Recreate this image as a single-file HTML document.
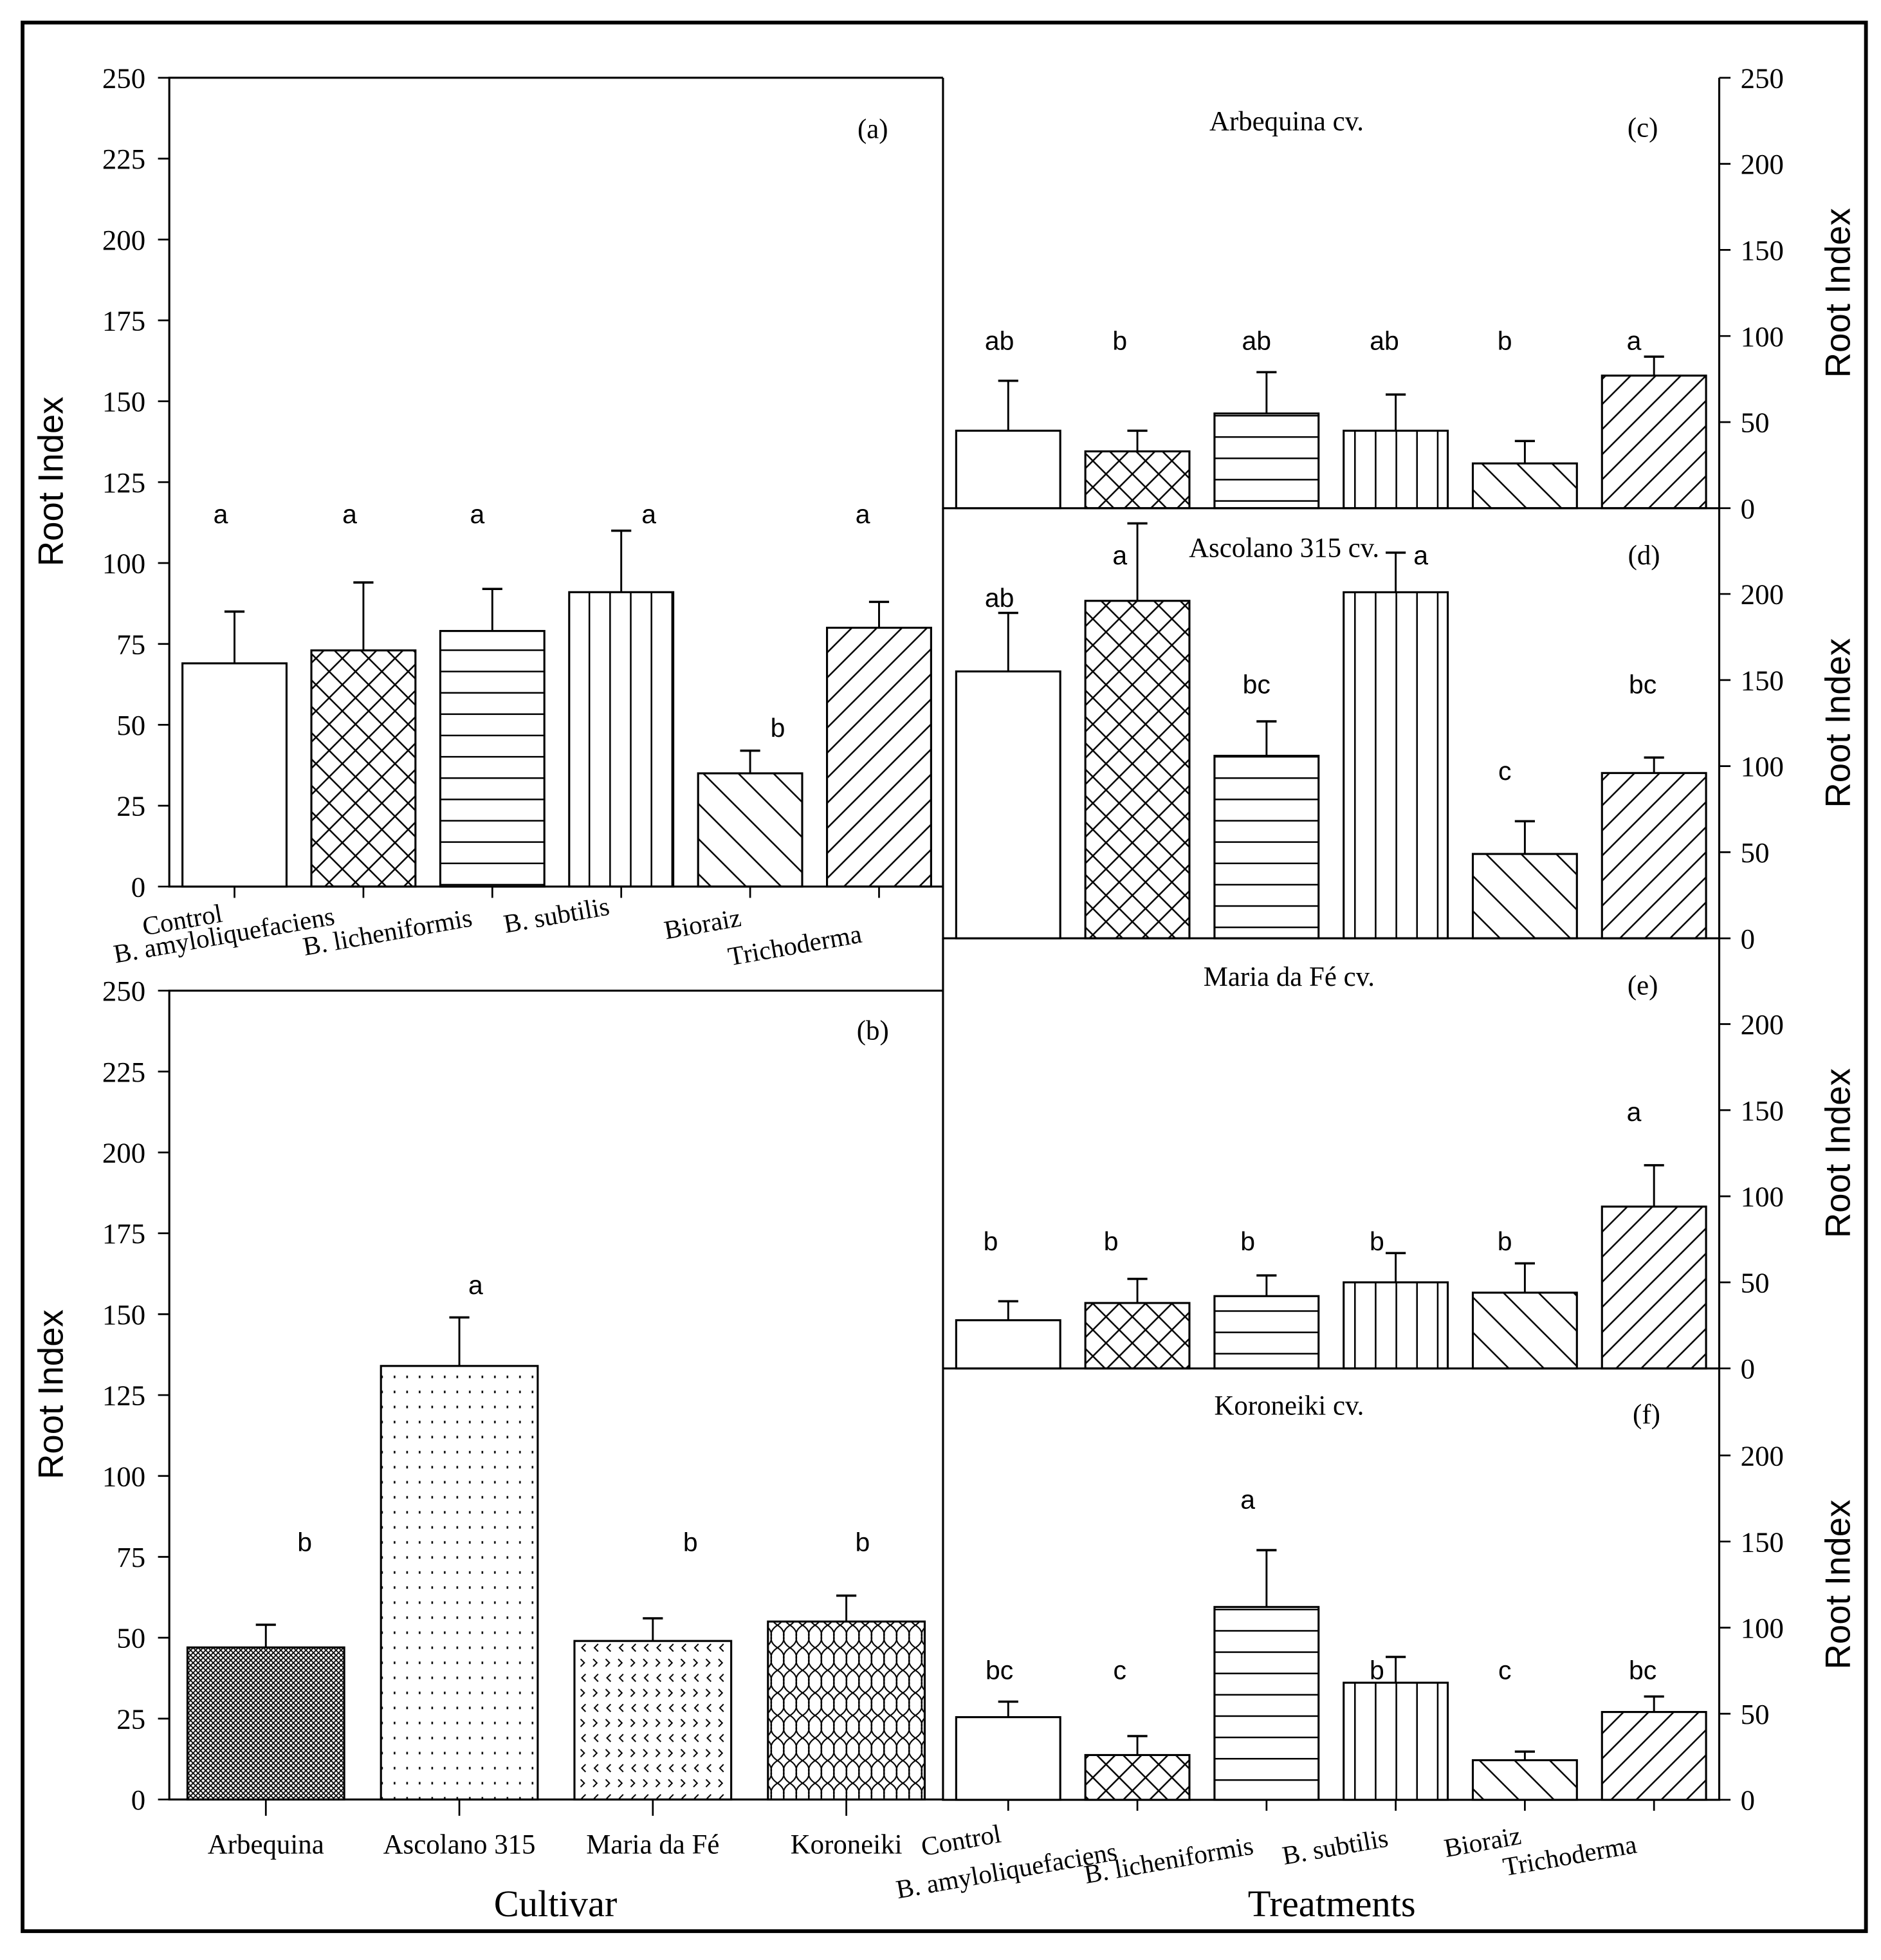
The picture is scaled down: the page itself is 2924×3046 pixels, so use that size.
<!DOCTYPE html>
<html><head><meta charset="utf-8"><style>
html,body{margin:0;padding:0;background:#fff}
svg{display:block}
.ser{font-family:"Liberation Serif",serif}
.san{font-family:"Liberation Sans",sans-serif}
</style></head><body>
<svg id="fig" width="2924" height="3046" viewBox="0 0 1500 1563" preserveAspectRatio="none" xmlns="http://www.w3.org/2000/svg">
<defs>
<pattern id="p-cross" patternUnits="userSpaceOnUse" width="21" height="21"><path d="M0 0L21 21M21 0L0 21" stroke="#000" stroke-width="1.3"/></pattern>
<pattern id="p-hor" patternUnits="userSpaceOnUse" width="10" height="17"><path d="M0 8.5H10" stroke="#000" stroke-width="1.3"/></pattern>
<pattern id="p-ver" patternUnits="userSpaceOnUse" width="16.5" height="10"><path d="M8 0V10" stroke="#000" stroke-width="1.3"/></pattern>
<pattern id="p-back" patternUnits="userSpaceOnUse" width="28" height="28"><path d="M0 0L28 28M-14 14L14 42M14 -14L42 14" stroke="#000" stroke-width="1.3"/></pattern>
<pattern id="p-fwd" patternUnits="userSpaceOnUse" width="20" height="20"><path d="M0 20L20 0M-10 10L10 -10M10 30L30 10" stroke="#000" stroke-width="1.3"/></pattern>
<pattern id="p-fine" patternUnits="userSpaceOnUse" width="4" height="4"><rect width="4" height="4" fill="#fff"/><path d="M0 0L4 4M4 0L0 4" stroke="#000" stroke-width="0.9"/></pattern>
<pattern id="p-dots" patternUnits="userSpaceOnUse" width="10" height="12"><rect x="4" y="5" width="1.3" height="2" fill="#000"/></pattern>
<pattern id="p-chev" patternUnits="userSpaceOnUse" width="10" height="24"><path d="M3 3L6 6L3 9M7 15L4 18L7 21" stroke="#000" stroke-width="1" fill="none"/></pattern>
<pattern id="p-scale" patternUnits="userSpaceOnUse" width="10" height="18"><path d="M0 0Q6 4 5 9Q4 14 10 18M10 0Q4 4 5 9M5 9Q6 14 0 18" stroke="#000" stroke-width="1.1" fill="none"/></pattern>
</defs>
<rect x="18" y="18" width="1470" height="1522" fill="none" stroke="#000" stroke-width="3"/>
<g id="g"></g>
</svg>
<script>
// ---- data ----
const treatments = ["Control","B. amyloliquefaciens","B. licheniformis","B. subtilis","Bioraiz","Trichoderma"];
const aValues = [69,73,79,91,35,80];
const aErrors = [16,21,13,19,7,8];
const aLetters = ["a","a","a","a","b","a"];
const cultivars = ["Arbequina","Ascolano 315","Maria da Fé","Koroneiki"];
const bValues = [47,134,49,55];
const bErrors = [7,15,7,8];
const bLetters = ["b","a","b","b"];
const cValues = [45,33,55,45,26,77];
const cErrors = [29,12,24,21,13,11];
const cLetters = ["ab","b","ab","ab","b","a"];
const dValues = [155,196,106,201,49,96];
const dErrors = [34,45,20,23,19,9];
const dLetters = ["ab","a","bc","a","c","bc"];
const eValues = [28,38,42,50,44,94];
const eErrors = [11,14,12,17,17,24];
const eLetters = ["b","b","b","b","b","a"];
const fValues = [48,26,112,68,23,51];
const fErrors = [9,11,33,15,5,9];
const fLetters = ["bc","c","a","b","c","bc"];
const leftTicks = [0,25,50,75,100,125,150,175,200,225,250];
const rightTicks = [0,50,100,150,200];

const NS="http://www.w3.org/2000/svg";
const G=document.getElementById('g');
function el(tag,attrs,txt){const e=document.createElementNS(NS,tag);for(const k in attrs)e.setAttribute(k,attrs[k]);if(txt!==undefined)e.textContent=txt;G.appendChild(e);return e;}
const tFills=["#fff","url(#p-cross)","url(#p-hor)","url(#p-ver)","url(#p-back)","url(#p-fwd)"];
const cFills=["url(#p-fine)","url(#p-dots)","url(#p-chev)","url(#p-scale)"];

function drawBars(vals,errs,letters,fills,x0,step,w,y0,ppu,letterY,letterDx,prefix){
  vals.forEach((v,i)=>{
    const cx=x0+i*step, top=y0-v*ppu, et=y0-(v+errs[i])*ppu;
    const eb=el('line',{x1:cx,x2:cx,y1:top,y2:et,stroke:'#000','stroke-width':1.5});
    
    
    const cap=el('line',{x1:cx-8,x2:cx+8,y1:et,y2:et,stroke:'#000','stroke-width':1.8});
    
    
    const r=el('rect',{x:cx-w/2,y:top,width:w,height:v*ppu,fill:fills[i],stroke:'#000','stroke-width':1.6});
    
    
    const ly = letterY!==null ? letterY[i] : 0;
    const t=el('text',{x:cx+letterDx[i],y:ly,'font-size':21,'text-anchor':'middle',class:'san'},letters[i]);
    
    
  });
}

// ---- Panel a ----
(function(){
  const X=135,Y0=707,Y1=62,ppu=(Y0-Y1)/250;
  const ax=el('path',{d:`M752 ${Y1}H${X}V${Y0}H752`,fill:'none',stroke:'#000','stroke-width':1.6});
  
  leftTicks.forEach(v=>{const y=Y0-v*ppu;
    el('line',{x1:X-9,x2:X,y1:y,y2:y,stroke:'#000','stroke-width':1.4});
    const t=el('text',{x:X-19,y:y+8,'font-size':23,'text-anchor':'end',class:'ser'},v);
    });
  const ly=aValues.map(()=>Y0-115*ppu+7); ly[4]=Y0-49*ppu+7;
  drawBars(aValues,aErrors,aLetters,tFills,187,102.8,83,Y0,ppu,ly,[-11,-11,-12,22,22,-13],'panel-a');
  treatments.forEach((n,i)=>{const cx=187+i*102.8;el('line',{x1:cx,x2:cx,y1:Y0,y2:Y0+9,stroke:'#000','stroke-width':1.4});});
  const xl=[[115,746],[92,768],[243,762],[403,744],[531,749],[582,770]];
  treatments.forEach((n,i)=>{const t=el('text',{x:xl[i][0],y:xl[i][1],'font-size':21,class:'ser',transform:`rotate(-10 ${xl[i][0]} ${xl[i][1]})`},n);
    });
  const yt=el('text',{x:50,y:384,'font-size':28,'text-anchor':'middle',class:'san',transform:'rotate(-90 50 384)'},'Root Index');
  
  const pl=el('text',{x:696,y:110,'font-size':22,'text-anchor':'middle',class:'ser'},'(a)');
  
})();

// ---- Panel b ----
(function(){
  const X=135,Y0=1435,Y1=790,ppu=(Y0-Y1)/250;
  const ax=el('path',{d:`M752 ${Y1}H${X}V${Y0}H752`,fill:'none',stroke:'#000','stroke-width':1.6});
  
  leftTicks.forEach(v=>{const y=Y0-v*ppu;
    el('line',{x1:X-9,x2:X,y1:y,y2:y,stroke:'#000','stroke-width':1.4});
    const t=el('text',{x:X-19,y:y+8,'font-size':23,'text-anchor':'end',class:'ser'},v);
    });
  const ly=[1237,1032,1237,1237];
  drawBars(bValues,bErrors,bLetters,cFills,212,154.3,125,Y0,ppu,ly,[31,13,30,13],'panel-b');
  cultivars.forEach((n,i)=>{const cx=212+i*154.3;el('line',{x1:cx,x2:cx,y1:Y0,y2:Y0+13,stroke:'#000','stroke-width':1.4});
    const t=el('text',{x:cx,y:1478,'font-size':22,'text-anchor':'middle',class:'ser'},n);
    });
  const yt=el('text',{x:50,y:1112,'font-size':28,'text-anchor':'middle',class:'san',transform:'rotate(-90 50 1112)'},'Root Index');
  
  const pl=el('text',{x:696,y:829,'font-size':22,'text-anchor':'middle',class:'ser'},'(b)');
  
  const xt=el('text',{x:443,y:1528,'font-size':30,'text-anchor':'middle',class:'ser'},'Cultivar');
  
})();

// ---- Right panels ----
const rp=[
 {id:'c',vals:cValues,errs:cErrors,lets:cLetters,y1:62,title:'Arbequina cv.',top250:true,ly:[279,279,279,279,279,279],dx:[-7,-14,-8,-9,-16,-16],tx:1026,ty:104,lx:1310,lyl:109},
 {id:'d',vals:dValues,errs:dErrors,lets:dLetters,y1:405,title:'Ascolano 315 cv.',top250:false,ly:[484,450,553,450,622,553],dx:[-7,-14,-8,20,-16,-9],tx:1024,ty:444,lx:1311,lyl:450},
 {id:'e',vals:eValues,errs:eErrors,lets:eLetters,y1:748,title:'Maria da Fé cv.',top250:false,ly:[997,997,997,997,997,894],dx:[-14,-21,-15,-15,-16,-16],tx:1028,ty:786,lx:1310,lyl:793},
 {id:'f',vals:fValues,errs:fErrors,lets:fLetters,y1:1092,title:'Koroneiki cv.',top250:false,ly:[1339,1339,1203,1339,1339,1339],dx:[-7,-14,-15,-15,-16,-9],tx:1028,ty:1128,lx:1313,lyl:1135}
];
rp.forEach(p=>{
  const Y1=p.y1,Y0=Y1+343.25,ppu=(Y0-Y1)/250,XR=1371;
  const ax=el('path',{d:`M752 ${Y1}V${Y0}H${XR}V${Y1}`,fill:'none',stroke:'#000','stroke-width':1.6});
  
  const ticks=p.top250?rightTicks.concat([250]):rightTicks;
  ticks.forEach(v=>{const y=Y0-v*ppu;
    el('line',{x1:XR,x2:XR+9,y1:y,y2:y,stroke:'#000','stroke-width':1.4});
    const t=el('text',{x:XR+17,y:y+8,'font-size':23,class:'ser'},v);
    });
  drawBars(p.vals,p.errs,p.lets,tFills,804,103,83,Y0,ppu,p.ly,p.dx,'panel-'+p.id);
  const yc=(Y0+Y1)/2;
  const yt=el('text',{x:1475,y:yc,'font-size':28,'text-anchor':'middle',class:'san',transform:`rotate(-90 1475 ${yc})`},'Root Index');
  
  const tt=el('text',{x:p.tx,y:p.ty,'font-size':22,'text-anchor':'middle',class:'ser'},p.title);
  
  const pl=el('text',{x:p.lx,y:p.lyl,'font-size':22,'text-anchor':'middle',class:'ser'},'('+p.id+')');
  
});
treatments.forEach((n,i)=>{const cx=804+i*103;el('line',{x1:cx,x2:cx,y1:1435,y2:1444,stroke:'#000','stroke-width':1.4});});
const fxl=[[736,1480],[716,1514],[866,1502],[1024,1487],[1153,1481],[1200,1496]];
treatments.forEach((n,i)=>{const t=el('text',{x:fxl[i][0],y:fxl[i][1],'font-size':21,class:'ser',transform:`rotate(-10 ${fxl[i][0]} ${fxl[i][1]})`},n);
  });
const xt=el('text',{x:1062,y:1528,'font-size':30,'text-anchor':'middle',class:'ser'},'Treatments');

</script>
</body></html>
